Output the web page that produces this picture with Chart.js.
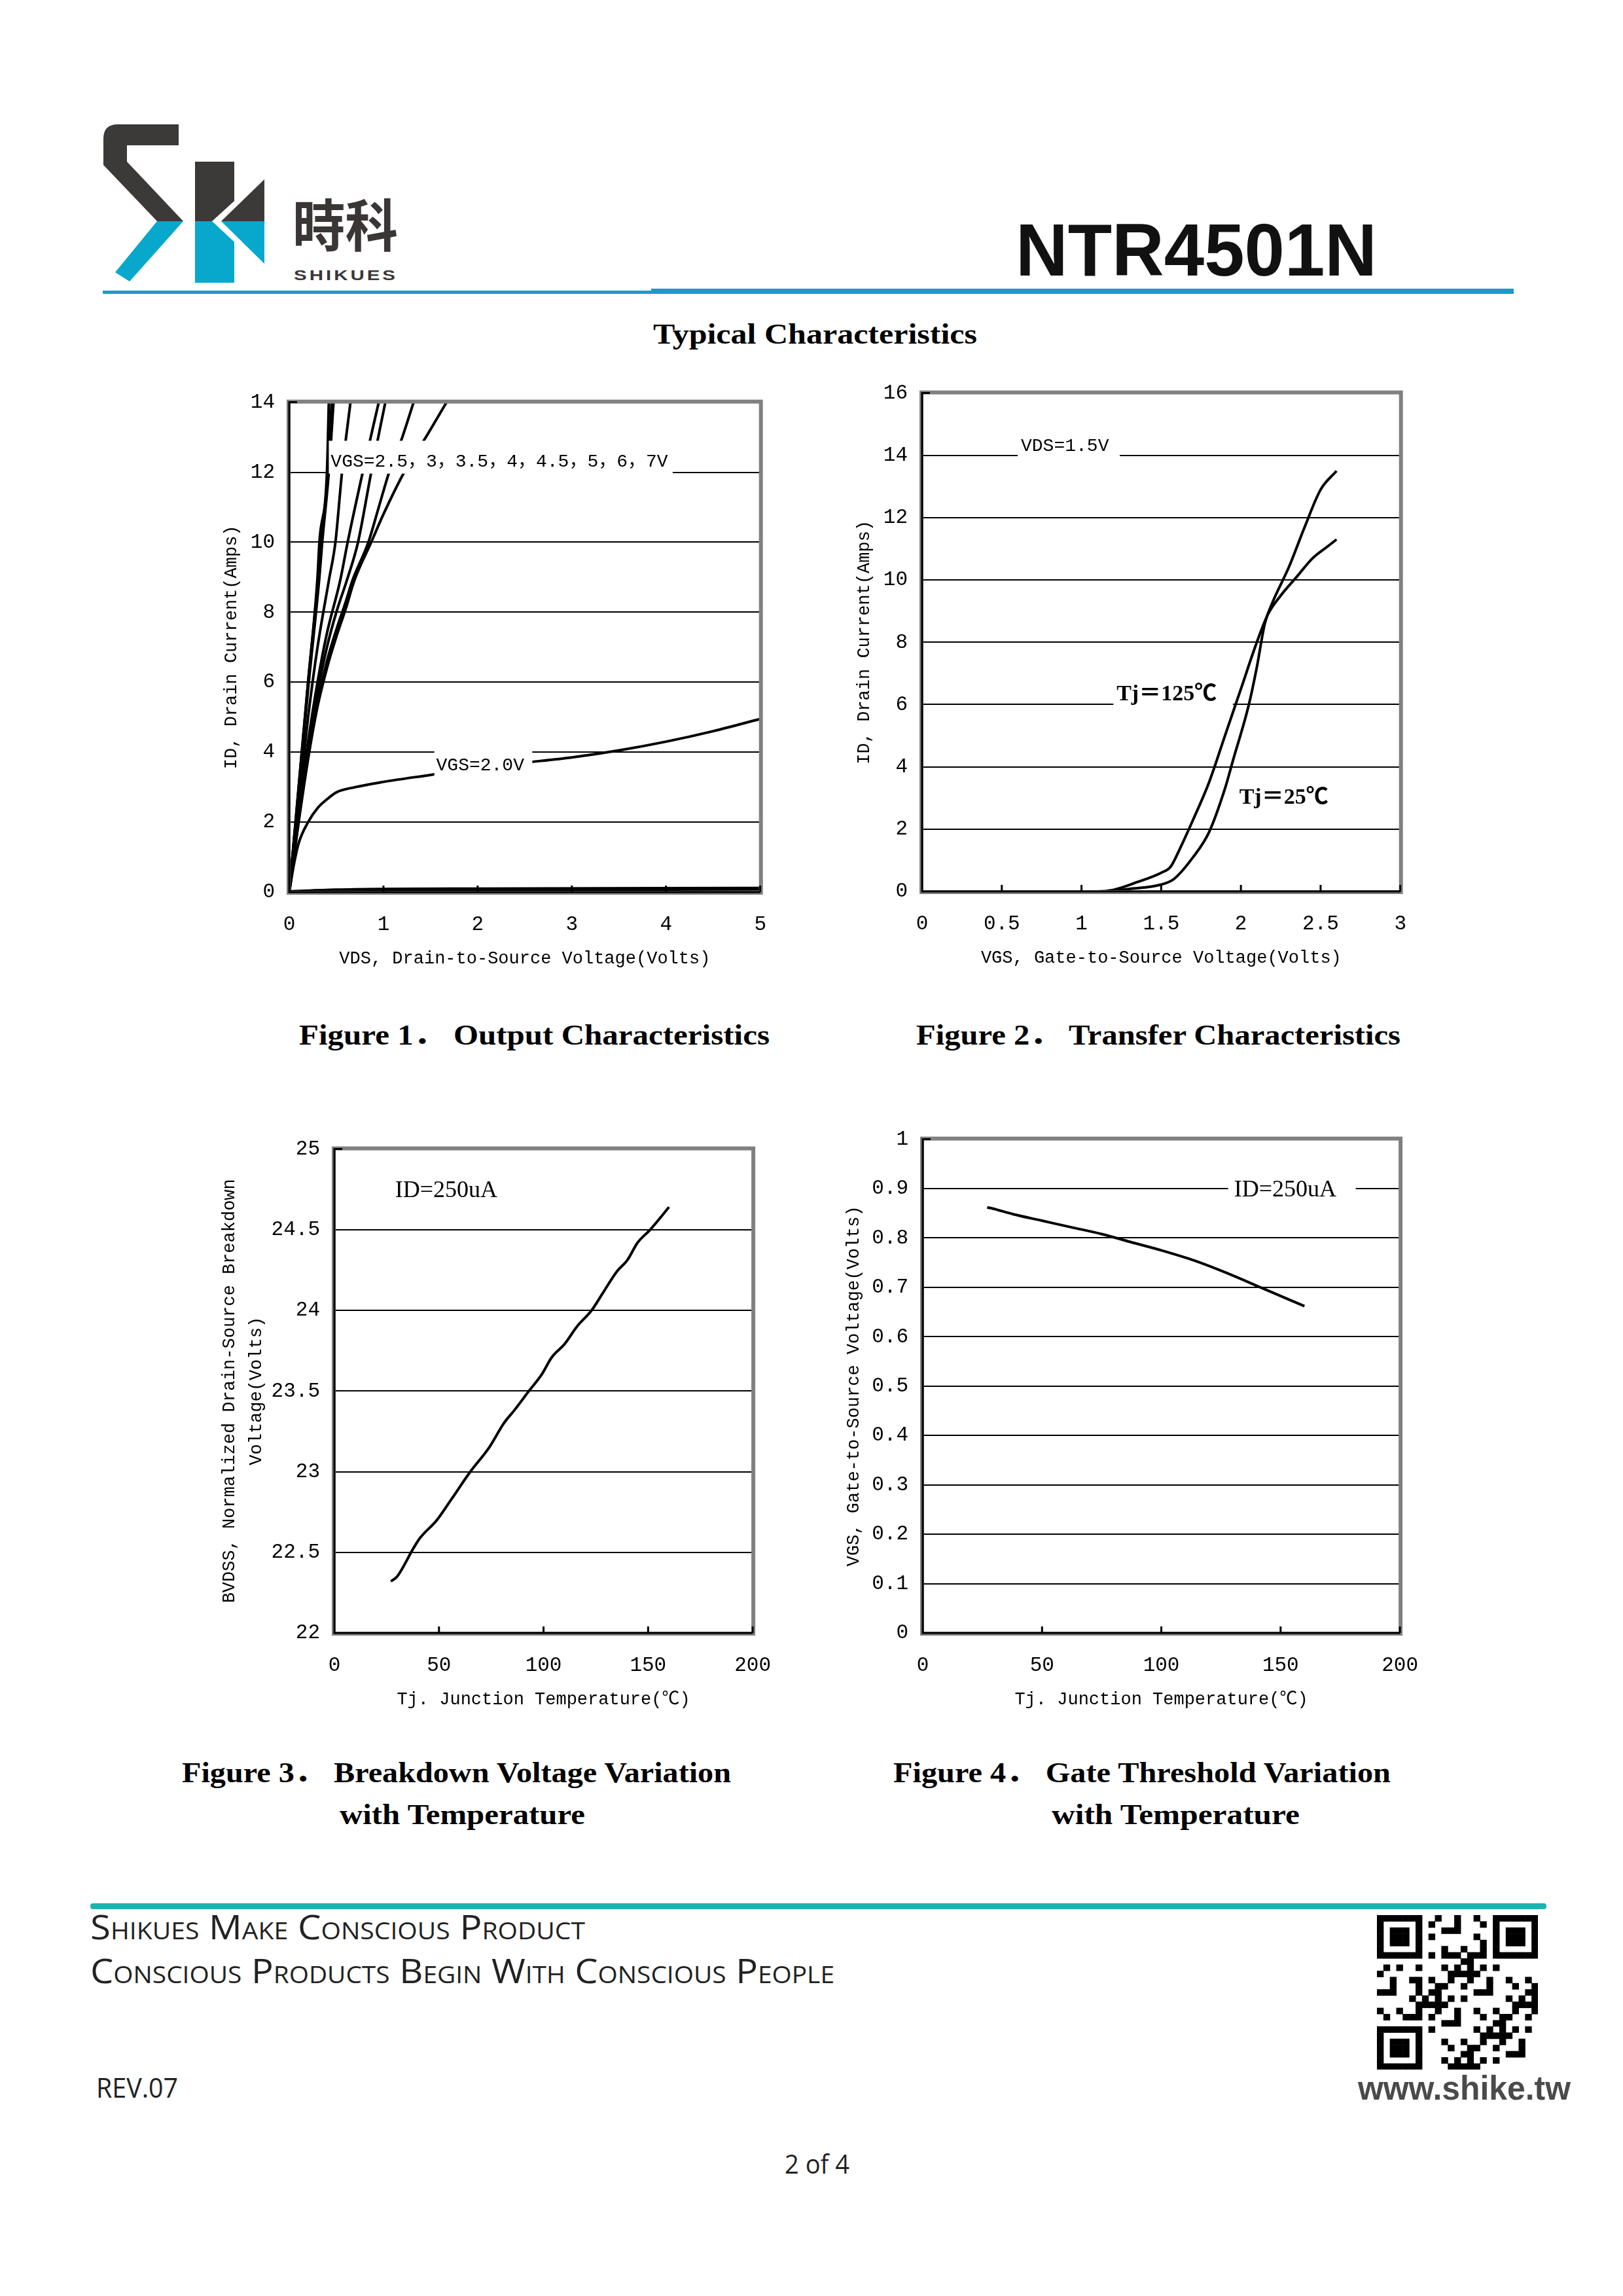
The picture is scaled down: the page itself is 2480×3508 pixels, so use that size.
<!DOCTYPE html>
<html>
<head>
<meta charset="utf-8">
<script src="https://cdn.jsdelivr.net/npm/chart.js@4.4.0/dist/chart.umd.min.js"></script>
<style>
html, body { margin: 0; padding: 0; background: #fff; }
#page { position: relative; width: 2480px; height: 3508px; overflow: hidden; background: #fff; }
.t { position: absolute; white-space: nowrap; line-height: 1; color: #000; }
canvas { position: absolute; }
.bar { position: absolute; }
</style>
</head>
<body>
<div id="page">
  <svg style="position:absolute;left:158px;top:190px" width="250" height="245" viewBox="0 0 250 245">
    <path d="M0,22 Q0,0 22,0 L115,0 L115,32 L36,32 L36,57 L122,148 L82,148 L0,62 Z" fill="#3c3939"/>
    <path d="M140,57 L200,57 L200,148 L140,148 Z" fill="#3c3939"/>
    <path d="M140,148 L200,148 L200,242 L140,242 Z" fill="#07a8cb"/>
    <path d="M82,148 L122,148 L40,240 L18,226 Z" fill="#07a8cb"/>
    <path d="M252,70 L252,228 L166,148 Z" fill="#fff"/>
    <path d="M246,84 L246,148 L180,148 Z" fill="#3c3939"/>
    <path d="M180,148 L246,148 L246,213 Z" fill="#07a8cb"/>
  </svg>
  <div class="bar" style="left:157px;top:444px;width:838px;height:5px;background:#1b9bc4"></div>
  <div class="bar" style="left:995px;top:441px;width:1318px;height:8px;background:#1b9bc4"></div>
  <div class="bar" style="left:138px;top:2908px;width:2225px;height:9px;background:#1db2b0;border-radius:4px"></div>
  <canvas id="qr" width="246" height="236" style="left:2104px;top:2926px"></canvas>
</div>
<script>
// ---- Figure 1: output characteristics, [VDS, ID] ----
const vgs7  = [[0,0],[0.1,3.0],[0.2,6.0],[0.3,9.0],[0.32,10],[0.4,12],[0.42,14]];
const vgs6  = [[0,0],[0.1,3.0],[0.2,6.0],[0.31,9.0],[0.34,10],[0.41,12],[0.45,14]];
const vgs5  = [[0,0],[0.1,2.9],[0.2,5.8],[0.32,9.0],[0.35,10],[0.42,12],[0.47,14]];
const vgs45 = [[0,0],[0.1,2.6],[0.2,5.0],[0.3,7.0],[0.42,8.9],[0.49,10],[0.56,12],[0.65,14]];
const vgs4  = [[0,0],[0.1,2.3],[0.2,4.3],[0.3,6.0],[0.4,7.4],[0.54,8.9],[0.62,10],[0.78,12],[0.95,14]];
const vgs35 = [[0,0],[0.1,2.2],[0.2,4.1],[0.3,5.7],[0.4,7.0],[0.5,8.0],[0.61,8.9],[0.73,10],[0.87,12],[1.02,14]];
const vgs3  = [[0,0],[0.1,2.1],[0.2,3.9],[0.3,5.4],[0.4,6.6],[0.5,7.5],[0.6,8.3],[0.67,8.9],[0.84,10],[0.95,11],[1.06,12],[1.2,13],[1.32,14]];
const vgs25 = [[0,0],[0.1,2.0],[0.2,3.8],[0.3,5.3],[0.4,6.4],[0.5,7.3],[0.6,8.1],[0.69,8.9],[0.87,10],[1.0,10.8],[1.22,12],[1.45,13],[1.67,14]];
const vgs2  = [[0,0],[0.05,0.8],[0.1,1.4],[0.2,2.0],[0.3,2.4],[0.4,2.65],[0.5,2.85],[0.7,3.0],[1.0,3.15],[1.5,3.35],[2,3.55],[2.5,3.7],[3,3.85],[3.5,4.05],[4,4.3],[4.5,4.6],[5,4.95]];
const vgsOff = [[0,0],[0.5,0.05],[1,0.07],[2,0.08],[5,0.1]];

// ---- Figure 2: transfer characteristics, [VGS, ID] ----
const tj125 = [[0,0],[1.1,0],[1.2,0.05],[1.35,0.3],[1.5,0.6],[1.56,0.8],[1.62,1.4],[1.7,2.3],[1.8,3.5],[1.9,5.0],[2.0,6.5],[2.1,8.0],[2.17,8.9],[2.25,9.5],[2.35,10.1],[2.45,10.7],[2.55,11.1],[2.6,11.3]];
const tj25  = [[0,0],[1.15,0],[1.3,0.08],[1.5,0.22],[1.58,0.4],[1.7,1.1],[1.8,1.9],[1.9,3.3],[1.95,4.2],[2.05,6.0],[2.1,7.2],[2.15,8.6],[2.2,9.3],[2.3,10.4],[2.4,11.7],[2.5,12.9],[2.6,13.5]];

// ---- Figure 3: breakdown voltage vs temperature ----
const bvTemp = [27,30,38,41,49,56,65,74,81,86,93,99,104,110,116,123,128,135,140,145,151,160];
const bvVolt = [22.32,22.35,22.53,22.59,22.7,22.83,23.0,23.15,23.3,23.38,23.5,23.6,23.71,23.79,23.9,24.0,24.1,24.24,24.31,24.42,24.5,24.64];

// ---- Figure 4: gate threshold vs temperature ----
const vthTemp = [27,29,38,50,62,75,87,100,114,130,142,160];
const vthVolt = [0.862,0.86,0.848,0.835,0.822,0.808,0.792,0.775,0.754,0.724,0.699,0.662];

const page = document.getElementById('page');
const MONO = "'Liberation Mono', 'Noto Sans CJK SC', monospace";
const TICK_FONT = { family: MONO, size: 31 };
const TITLE_FONT = { family: MONO, size: 27, lineHeight: 1.5 };

// text written inside the plot areas (data units)
const NOTES = {
  c1: [
    { text: 'VGS=2.5，3，3.5，4，4.5，5，6，7V', x: 0.44, y: 12.3, box: [0.42, 4.07, 11.96, 12.9], font: '28px ' + MONO },
    { text: 'VGS=2.0V', x: 1.56, y: 3.62, box: [1.54, 2.58, 3.28, 4.06], font: '28px ' + MONO }
  ],
  c2: [
    { text: 'VDS=1.5V', x: 0.62, y: 14.3, box: [0.6, 1.24, 13.95, 14.7], font: '28px ' + MONO },
    { text: 'Tj＝125℃', x: 1.22, y: 6.32, box: [1.2, 1.95, 5.95, 6.8], font: "bold 34px 'Liberation Serif', 'Noto Sans CJK SC'" },
    { text: 'Tj＝25℃', x: 1.99, y: 3.0, box: [1.97, 2.6, 2.6, 3.45], font: "bold 34px 'Liberation Serif', 'Noto Sans CJK SC'" }
  ],
  c3: [
    { text: 'ID=250uA', x: 29, y: 24.74, font: "36px 'Liberation Serif'" }
  ],
  c4: [
    { text: 'ID=250uA', x: 130.5, y: 0.897, box: [128, 181.5, 0.87, 0.93], font: "36px 'Liberation Serif'" }
  ]
};

const notes = {
  id: 'notes',
  afterDatasetsDraw(chart) {
    const list = NOTES[chart.canvas.id] || [];
    const ctx = chart.ctx, sx = chart.scales.x, sy = chart.scales.y;
    list.forEach(n => {
      ctx.save();
      if (n.box) {
        const x0 = sx.getPixelForValue(n.box[0]), x1 = sx.getPixelForValue(n.box[1]);
        const y0 = sy.getPixelForValue(n.box[2]), y1 = sy.getPixelForValue(n.box[3]);
        ctx.fillStyle = '#fff';
        ctx.fillRect(x0, y1, x1 - x0, y0 - y1);
      }
      ctx.font = n.font;
      ctx.fillStyle = '#000';
      ctx.textAlign = 'left';
      ctx.textBaseline = 'middle';
      ctx.fillText(n.text, sx.getPixelForValue(n.x), sy.getPixelForValue(n.y));
      ctx.restore();
    });
  }
};

// grey frame, black axis lines and inward x ticks
const frame = {
  id: 'frame',
  afterDraw(chart) {
    const ctx = chart.ctx, a = chart.chartArea, sx = chart.scales.x;
    ctx.save();
    ctx.strokeStyle = '#808080';
    ctx.lineWidth = 6;
    ctx.strokeRect(a.left - 1, a.top - 1, a.right - a.left + 2, a.bottom - a.top + 2);
    ctx.strokeStyle = '#000';
    ctx.lineWidth = 3;
    ctx.beginPath();
    ctx.moveTo(a.left + 12, a.top);
    ctx.lineTo(a.left, a.top);
    ctx.lineTo(a.left, a.bottom);
    ctx.lineTo(a.right, a.bottom);
    sx.ticks.forEach(t => {
      const px = sx.getPixelForValue(t.value);
      ctx.moveTo(px, a.bottom);
      ctx.lineTo(px, a.bottom - 10);
    });
    ctx.stroke();
    ctx.restore();
  }
};

function fmt(v) {
  const r = Math.round(v * 10) / 10;
  return Number.isInteger(r) ? String(r) : r.toFixed(1);
}

function pairs(list) { return list.map(p => ({ x: p[0], y: p[1] })); }
function zip(xs, ys) { return xs.map((x, i) => ({ x: x, y: ys[i] })); }

function makeChart(id, box, ax, sets) {
  const PT = 40, PR = 40, XH = 130;
  const cv = document.createElement('canvas');
  cv.id = id;
  const w = box.r - box.l + box.yw + PR, h = box.b - box.t + PT + XH;
  cv.width = w; cv.height = h;
  cv.style.left = (box.l - box.yw) + 'px';
  cv.style.top = (box.t - PT) + 'px';
  cv.style.width = w + 'px';
  cv.style.height = h + 'px';
  page.appendChild(cv);
  return new Chart(cv, {
    type: 'line',
    data: {
      datasets: sets.map(s => ({
        data: s.data, borderColor: '#000', borderWidth: s.w || 4,
        pointRadius: 0, cubicInterpolationMode: 'monotone', fill: false
      }))
    },
    options: {
      responsive: false, animation: false, devicePixelRatio: 1,
      layout: { padding: { left: 0, top: PT, right: PR, bottom: 0 } },
      plugins: { legend: { display: false }, tooltip: { enabled: false } },
      scales: {
        x: {
          type: 'linear', min: ax.x[0], max: ax.x[1],
          grid: { display: false, drawTicks: false }, border: { display: false },
          ticks: { stepSize: ax.x[2], autoSkip: false, maxRotation: 0, padding: 31, color: '#000', font: TICK_FONT, callback: fmt },
          title: { display: true, text: ax.xt, color: '#000', font: TITLE_FONT, padding: { top: 0, bottom: 8 } },
          afterFit: s => { s.height = XH; }
        },
        y: {
          type: 'linear', min: ax.y[0], max: ax.y[1],
          grid: { color: '#000', lineWidth: 2, drawTicks: false }, border: { display: false },
          ticks: { stepSize: ax.y[2], autoSkip: false, padding: 22, color: '#000', font: TICK_FONT, callback: fmt },
          title: { display: true, text: ax.yt, color: '#000', font: TITLE_FONT, padding: { top: box.ytp, bottom: 0 } },
          afterFit: s => { s.width = box.yw; }
        }
      }
    },
    plugins: [notes, frame]
  });
}

makeChart('c1', { l: 442, t: 614, r: 1162, b: 1363, yw: 130, ytp: 22 },
  { x: [0, 5, 1], y: [0, 14, 2], xt: 'VDS, Drain-to-Source Voltage(Volts)', yt: 'ID, Drain Current(Amps)' },
  [vgs7, vgs6, vgs5, vgs45, vgs4, vgs35, vgs3, vgs25, vgs2].map(d => ({ data: pairs(d) }))
    .concat([{ data: pairs(vgsOff), w: 6 }]));

makeChart('c2', { l: 1409, t: 600, r: 2140, b: 1362, yw: 130, ytp: 22 },
  { x: [0, 3, 0.5], y: [0, 16, 2], xt: 'VGS, Gate-to-Source Voltage(Volts)', yt: 'ID, Drain Current(Amps)' },
  [{ data: pairs(tj125) }, { data: pairs(tj25) }]);

makeChart('c3', { l: 511, t: 1755, r: 1169, b: 2495, yw: 190, ytp: 10 },
  { x: [0, 200, 50], y: [22, 25, 0.5], xt: 'Tj. Junction Temperature(℃)',
    yt: ['BVDSS, Normalized Drain-Source Breakdown', 'Voltage(Volts)'] },
  [{ data: zip(bvTemp, bvVolt) }]);

makeChart('c4', { l: 1410, t: 1740, r: 2158, b: 2495, yw: 130, ytp: 5 },
  { x: [0, 200, 50], y: [0, 1, 0.1], xt: 'Tj. Junction Temperature(℃)', yt: 'VGS, Gate-to-Source Voltage(Volts)' },
  [{ data: zip(vthTemp, vthVolt) }]);

// page text, centred vertically on cy and stretched to the width seen in the sheet
function txt(s, o) {
  const d = document.createElement('div');
  d.className = 't';
  d.textContent = s;
  Object.assign(d.style, o.style || {});
  page.appendChild(d);
  const nat = d.getBoundingClientRect().width;
  const k = o.w ? o.w / nat : 1;
  const left = o.cx !== undefined ? o.cx - nat * k / 2 : o.left;
  d.style.left = left + 'px';
  d.style.top = o.cy + 'px';
  d.style.transformOrigin = '0 50%';
  d.style.transform = 'translateY(-50%) scaleX(' + k + ')';
}

const SERIF_B = { font: "bold 44px 'Liberation Serif', 'Noto Sans CJK SC'" };
const FOOT = { font: "52px 'Open Sans'", fontVariant: 'small-caps', color: '#222' };

txt('Typical Characteristics', { cx: 1245, cy: 510, w: 495, style: SERIF_B });
txt('Figure 1． Output Characteristics', { cx: 816, cy: 1577, w: 719, style: SERIF_B });
txt('Figure 2． Transfer Characteristics', { cx: 1770, cy: 1577, w: 740, style: SERIF_B });
txt('Figure 3． Breakdown Voltage Variation', { cx: 697, cy: 2704, w: 839, style: SERIF_B });
txt('with Temperature', { cx: 706, cy: 2772, w: 375, style: SERIF_B });
txt('Figure 4． Gate Threshold Variation', { cx: 1745, cy: 2704, w: 760, style: SERIF_B });
txt('with Temperature', { cx: 1796, cy: 2772, w: 379, style: SERIF_B });

txt('NTR4501N', { left: 1552, cy: 381, w: 552, style: { font: "bold 114px 'Liberation Sans'", color: '#111' } });
txt('時科', { cx: 527, cy: 339, w: 161, style: { font: "bold 86px 'Noto Sans CJK TC'", color: '#3a3636' } });
txt('SHIKUES', { left: 449, cy: 421, w: 159, style: { font: "bold 22px 'Liberation Sans'", letterSpacing: '3px', color: '#3a3636' } });

txt('Shikues Make Conscious Product', { left: 138, cy: 2942, w: 756, style: FOOT });
txt('Conscious Products Begin With Conscious People', { left: 138, cy: 3009, w: 1137, style: FOOT });
txt('REV.07', { left: 147, cy: 3188, w: 125, style: { font: "42px 'Open Sans'", color: '#222' } });
txt('2 of 4', { cx: 1248, cy: 3305, w: 99, style: { font: "40px 'Open Sans'", color: '#222' } });
txt('www.shike.tw', { cx: 2237, cy: 3190, w: 325, style: { font: "bold 52px 'Liberation Sans'", color: '#4a4a4a' } });

// decorative QR block
(function () {
  const cv = document.getElementById('qr'), ctx = cv.getContext('2d');
  const N = 25, mw = cv.width / N, mh = cv.height / N;
  function finder(r0, c0) {
    for (let r = 0; r < 7; r++) for (let c = 0; c < 7; c++) {
      const on = r === 0 || r === 6 || c === 0 || c === 6 || (r >= 2 && r <= 4 && c >= 2 && c <= 4);
      if (on) ctx.fillRect((c0 + c) * mw, (r0 + r) * mh, mw + 0.5, mh + 0.5);
    }
  }
  ctx.fillStyle = '#000';
  finder(0, 0); finder(0, N - 7); finder(N - 7, 0);
  for (let r = 0; r < N; r++) for (let c = 0; c < N; c++) {
    const inF = (r < 8 && c < 8) || (r < 8 && c >= N - 8) || (r >= N - 8 && c < 8);
    if (inF) continue;
    if ((r * 13 + c * 7 + (r * c) % 5) % 3 === 0 || (r === 6 && c % 2 === 0) || (c === 6 && r % 2 === 0)) {
      ctx.fillRect(c * mw, r * mh, mw + 0.5, mh + 0.5);
    }
  }
})();
</script>
</body>
</html>
